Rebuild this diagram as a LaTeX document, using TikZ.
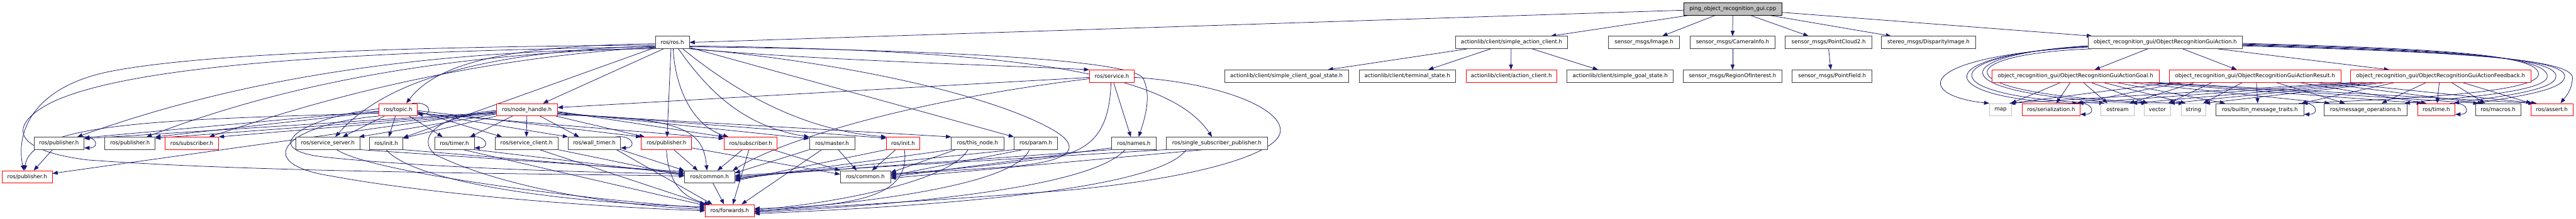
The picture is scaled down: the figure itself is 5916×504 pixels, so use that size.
\documentclass[tikz,border=0pt]{standalone}
\usepackage{fontspec}
\setmainfont{DejaVu Sans}
\usetikzlibrary{arrows.meta,backgrounds}
\definecolor{edgec}{HTML}{191970}
\definecolor{bx}{HTML}{404040}
\definecolor{gy}{HTML}{BFBFBF}
\tikzset{
 bxs/.style={draw=bx, line width=1.1pt, fill=white, minimum height=28.3pt, inner sep=0pt, font=\fontsize{12.4}{14}\selectfont},
 rds/.style={bxs, draw=red},
 gys/.style={bxs, draw=gy},
 roots/.style={bxs, draw=black, fill=gy},
 e/.style={draw=edgec, line width=1.1pt, -{Triangle[length=12pt,width=9pt]}}
}
\newcommand\mk[6]{%
  \pgfmathsetmacro\mkc{(#3+#4)/2}%
  \pgfmathsetmacro\mkw{#4-#3}%
  \node[#1,minimum width=\mkw pt] (#2) at (\mkc,#5) {#6};}
\newcommand\ed[4]{\draw[e] ([xshift=#2pt]#1.south) -- ([xshift=#4pt]#3.north);}
\newcommand\loopr[1]{\draw[e] ([xshift=-12pt]#1.north east) .. controls +(40,-6) and +(38,0) .. ([yshift=4pt]#1.south east);}
\begin{document}
\begin{tikzpicture}[x=1pt,y=-1pt]
\useasboundingbox (0,0) rectangle (5916,504);
% row 0
\mk{roots}{root}{3867}{4092}{20.5}{ping\_object\_recognition\_gui.cpp}
% row 1
\mk{bxs}{ros}{1505}{1583}{97.7}{ros/ros.h}
\mk{bxs}{sac}{3343}{3600}{97.7}{actionlib/client/simple\_action\_client.h}
\mk{bxs}{img}{3694}{3857}{97.7}{sensor\_msgs/Image.h}
\mk{bxs}{cam}{3881}{4077}{97.7}{sensor\_msgs/CameraInfo.h}
\mk{bxs}{pc2}{4100}{4299}{97.7}{sensor\_msgs/PointCloud2.h}
\mk{bxs}{disp}{4321}{4537}{97.7}{stereo\_msgs/DisparityImage.h}
\mk{bxs}{act}{4795}{5150}{97.7}{object\_recognition\_gui/ObjectRecognitionGuiAction.h}
% row 2
\mk{rds}{srv}{2502}{2605}{175.2}{ros/service.h}
\mk{bxs}{scgs}{2812}{3097}{175.2}{actionlib/client/simple\_client\_goal\_state.h}
\mk{bxs}{term}{3121}{3343}{175.2}{actionlib/client/terminal\_state.h}
\mk{rds}{acl}{3367}{3575}{175.2}{actionlib/client/action\_client.h}
\mk{bxs}{sgs}{3599}{3843}{175.2}{actionlib/client/simple\_goal\_state.h}
\mk{bxs}{roi}{3865}{4093}{175.2}{sensor\_msgs/RegionOfInterest.h}
\mk{bxs}{pf}{4116}{4299}{175.2}{sensor\_msgs/PointField.h}
\mk{rds}{goal}{4574}{4959}{175.2}{object\_recognition\_gui/ObjectRecognitionGuiActionGoal.h}
\mk{rds}{res}{4982}{5376}{175.2}{object\_recognition\_gui/ObjectRecognitionGuiActionResult.h}
\mk{rds}{fb}{5398}{5812}{175.2}{object\_recognition\_gui/ObjectRecognitionGuiActionFeedback.h}
% row 3
\mk{rds}{topic}{870}{958}{252.5}{ros/topic.h}
\mk{rds}{nh}{1140}{1280}{252.5}{ros/node\_handle.h}
\mk{gys}{map}{4569}{4620}{252.5}{map}
\mk{rds}{ser}{4644}{4777}{252.5}{ros/serialization.h}
\mk{gys}{ostr}{4825}{4901}{252.5}{ostream}
\mk{gys}{vec}{4924}{4985}{252.5}{vector}
\mk{gys}{str}{5009}{5066}{252.5}{string}
\mk{bxs}{bmt}{5089}{5291}{252.5}{ros/builtin\_message\_traits.h}
\mk{bxs}{mo}{5337}{5528}{252.5}{ros/message\_operations.h}
\mk{rds}{time}{5552}{5638}{252.5}{ros/time.h}
\mk{bxs}{mac}{5685}{5789}{252.5}{ros/macros.h}
\mk{rds}{asrt}{5812}{5909}{252.5}{ros/assert.h}
% row 4
\mk{bxs}{pub1}{78}{193}{329.8}{ros/publisher.h}
\mk{bxs}{pub2}{241}{356}{329.8}{ros/publisher.h}
\mk{rds}{sub1}{379}{502}{329.8}{ros/subscriber.h}
\mk{bxs}{ss}{679}{827}{329.8}{ros/service\_server.h}
\mk{bxs}{init1}{849}{925}{329.8}{ros/init.h}
\mk{bxs}{timer}{998}{1089}{329.8}{ros/timer.h}
\mk{bxs}{sc}{1137}{1281}{329.8}{ros/service\_client.h}
\mk{bxs}{wt}{1305}{1425}{329.8}{ros/wall\_timer.h}
\mk{rds}{pub3}{1473}{1588}{329.8}{ros/publisher.h}
\mk{rds}{sub2}{1663}{1785}{329.8}{ros/subscriber.h}
\mk{bxs}{master}{1859}{1963}{329.8}{ros/master.h}
\mk{rds}{init2}{2036}{2112}{329.8}{ros/init.h}
\mk{bxs}{tn}{2185}{2305}{329.8}{ros/this\_node.h}
\mk{bxs}{param}{2329}{2429}{329.8}{ros/param.h}
\mk{bxs}{names}{2553}{2655}{329.8}{ros/names.h}
\mk{bxs}{ssp}{2678}{2911}{329.8}{ros/single\_subscriber\_publisher.h}
% row 5
\mk{rds}{pub4}{5}{120}{407.2}{ros/publisher.h}
\mk{bxs}{com1}{1572}{1687}{407.2}{ros/common.h}
\mk{bxs}{com2}{1930}{2045}{407.2}{ros/common.h}
% row 6
\mk{rds}{fwd}{1620}{1732}{485}{ros/forwards.h}

\begin{scope}[on background layer]
% root
\draw[e] ([yshift=-3pt]root.west) -- (ros.east);
\ed{root}{-100}{sac}{90}
\ed{root}{-40}{img}{42}
\ed{root}{0}{cam}{0}
\ed{root}{40}{pc2}{-46}
\ed{root}{84}{disp}{-86}
\draw[e] ([yshift=-8pt]root.east) -- ([xshift=-168pt]act.north);
% actionlib / sensor
\ed{sac}{-101}{scgs}{95}
\ed{sac}{-48}{term}{48}
\ed{sac}{-1}{acl}{-1}
\ed{sac}{47}{sgs}{-51}
\ed{cam}{0}{roi}{0}
\ed{pc2}{0}{pf}{-3}
% action
\ed{act}{-40}{goal}{44}
\ed{act}{40}{res}{-42}
\ed{act}{120}{fb}{-118}
\draw[e] ([yshift=4pt]act.south west) .. controls (4390,130) and (4400,220) .. (map.north west);
\draw[e] ([yshift=5pt]act.south west) .. controls (4410,128) and (4450,228) .. ([xshift=-6pt]ser.north east);
\draw[e] ([yshift=6pt]act.south west) .. controls (4430,128) and (4440,225) .. ([xshift=-30pt]ostr.north);
\draw[e] ([yshift=7pt]act.south west) .. controls (4450,128) and (4460,222) .. ([xshift=-25pt]vec.north);
\draw[e] ([xshift=10pt]act.south west) .. controls (4460,125) and (4450,225) .. ([xshift=-22pt]str.north);
\draw[e] ([yshift=-2pt]act.east) .. controls (5600,112) and (5828,125) .. (5830,170) .. controls (5832,215) and (5500,228) .. ([xshift=-4pt]bmt.north east);
\draw[e] ([yshift=-3.5pt]act.east) .. controls (5600,114) and (5848,127) .. (5850,175) .. controls (5852,215) and (5600,228) .. ([xshift=-6pt]mo.north east);
\draw[e] ([yshift=-5pt]act.east) .. controls (5600,116) and (5868,129) .. (5870,175) .. controls (5872,212) and (5700,226) .. ([xshift=-3pt]time.north east);
\draw[e] ([yshift=-6.5pt]act.east) .. controls (5600,118) and (5888,131) .. (5890,175) .. controls (5892,210) and (5760,224) .. ([xshift=6pt]mac.north west);
\draw[e] ([yshift=-8pt]act.east) .. controls (5650,120) and (5910,135) .. (5908,180) .. controls (5906,210) and (5890,225) .. ([xshift=20pt]asrt.north);
% goal / result / feedback
\ed{goal}{-34}{map}{24}
\ed{goal}{-12}{ser}{12}
\ed{goal}{18}{ostr}{-23}
\ed{goal}{36}{vec}{-22}
\ed{goal}{64}{str}{-18}
\ed{goal}{94}{bmt}{-80}
\ed{goal}{124}{mo}{-82}
\ed{goal}{154}{time}{-33}
\ed{goal}{174}{mac}{-45}
\ed{goal}{188}{asrt}{-42}
\ed{res}{-189}{map}{22}
\ed{res}{-169}{ser}{59}
\ed{res}{-139}{ostr}{27}
\ed{res}{-99}{vec}{25}
\ed{res}{-29}{str}{22}
\ed{res}{3}{bmt}{-5}
\ed{res}{48}{mo}{-47}
\ed{res}{101}{time}{-23}
\ed{res}{141}{mac}{-35}
\ed{res}{181}{asrt}{-35}
\ed{fb}{-203}{map}{20}
\ed{fb}{-185}{ser}{62}
\ed{fb}{-165}{ostr}{33}
\ed{fb}{-145}{vec}{28}
\ed{fb}{-125}{str}{26}
\ed{fb}{-105}{bmt}{95}
\ed{fb}{-33}{mo}{37}
\ed{fb}{-3}{time}{2}
\ed{fb}{25}{mac}{-30}
\ed{fb}{50}{asrt}{-47}
\loopr{ser}
\loopr{bmt}
\loopr{time}
% ros.h
\draw[e] ([yshift=-6pt]ros.west) .. controls (900,108) and (450,125) .. (250,165) .. controls (80,200) and (35,300) .. ([xshift=-8pt]pub4.north);
\draw[e] ([yshift=-10pt]ros.west) .. controls (800,118) and (300,150) .. (120,235) .. controls (20,285) and (20,345) .. (200,368) .. controls (600,398) and (1300,400) .. ([yshift=2pt]com1.west);
\draw[e] (ros.south west) .. controls (900,115) and (500,200) .. ([xshift=42pt]pub1.north);
\draw[e] ([yshift=2pt]ros.south west) .. controls (950,125) and (600,215) .. ([xshift=38pt]pub2.north);
\draw[e] ([yshift=4pt]ros.south west) .. controls (1000,140) and (650,260) .. ([xshift=40pt]sub1.north);
\draw[e] ([yshift=-3pt]ros.west) .. controls (1150,105) and (1000,150) .. ([xshift=19pt]topic.north);
\draw[e] ([xshift=-20pt]ros.south) -- ([xshift=37pt]nh.north);
\draw[e] ([yshift=-8pt]ros.west) .. controls (1100,118) and (880,190) .. ([xshift=17pt]ss.north);
\draw[e] ([yshift=3pt]ros.south west) -- ([yshift=-2pt]init1.north east);
\draw[e] ([xshift=-3pt]ros.south) -- ([xshift=1.5pt]pub3.north);
\draw[e] ([xshift=2pt]ros.south) .. controls (1550,200) and (1590,290) .. ([xshift=-51pt]sub2.north);
\draw[e] ([xshift=14pt]ros.south) .. controls (1620,200) and (1700,290) .. (master.north west);
\draw[e] ([xshift=24pt]ros.south) .. controls (1700,220) and (1850,300) .. (init2.north west);
\draw[e] ([yshift=3pt]ros.south east) -- (param.north west);
\draw[e] ([yshift=-10pt]ros.east) .. controls (2200,115) and (2600,140) .. (2625,180) .. controls (2645,220) and (2630,270) .. ([xshift=11pt]names.north);
\draw[e] ([yshift=-8pt]ros.east) .. controls (2300,115) and (2680,160) .. ([xshift=-11pt]ssp.north);
\draw[e] (ros.south east) .. controls (1900,140) and (2300,150) .. (srv.north west);
\draw[e] ([yshift=1pt]ros.south east) .. controls (2000,150) and (2300,230) .. (2420,300) .. controls (2495,345) and (2450,375) .. (2300,385) .. controls (2200,392) and (2100,398) .. ([yshift=5pt]com2.east);
% topic.h
\draw[e] ([yshift=-3pt]topic.west) -- ([yshift=-2pt]pub1.north east);
\draw[e] ([yshift=-5pt]topic.west) -- (pub2.north east);
\draw[e] ([yshift=-8pt]topic.west) .. controls (400,275) and (70,280) .. ([xshift=-6pt]pub4.north);
\draw[e] ([xshift=-31pt]topic.south) -- ([xshift=34pt]ss.north);
\draw[e] ([xshift=-6pt]topic.south) -- ([xshift=6pt]init1.north);
\draw[e] ([xshift=26pt]topic.south) -- ([xshift=-27pt]timer.north);
\draw[e] ([yshift=-4pt]topic.east) -- ([xshift=-56pt]sc.north);
\draw[e] ([yshift=-6pt]topic.east) -- (wt.north west);
\draw[e] ([yshift=-2pt]topic.east) -- (pub3.north west);
\draw[e] ([yshift=-8pt]topic.east) -- ([yshift=-4pt]sub2.north west);
\draw[e] ([yshift=2pt]topic.west) .. controls (700,268) and (580,345) .. (750,362) .. controls (1000,388) and (1400,398) .. ([yshift=7pt]com1.west);
\draw[e] (topic.south west) .. controls (660,285) and (570,375) .. (760,405) .. controls (1000,450) and (1400,478) .. (fwd.west);
\loopr{topic}
% node_handle.h
\draw[e] ([yshift=-6pt]nh.west) -- ([yshift=-4pt]pub1.north east);
\draw[e] ([yshift=-7pt]nh.west) -- ([yshift=-3pt]pub2.north east);
\draw[e] ([yshift=-9pt]nh.west) -- (sub1.north east);
\draw[e] ([yshift=-10pt]nh.west) -- ([xshift=-3pt]ss.north east);
\draw[e] (nh.south west) -- ([yshift=-3pt]init1.north east);
\draw[e] ([yshift=-4pt]nh.west) -- ([yshift=8pt]pub4.east);
\draw[e] ([xshift=-33pt]nh.south) -- ([xshift=36pt]timer.north);
\draw[e] (nh.south) -- (sc.north);
\draw[e] ([xshift=30pt]nh.south) -- ([xshift=-35pt]wt.north);
\draw[e] ([xshift=-4pt]nh.south east) -- ([xshift=8pt]pub3.north west);
\draw[e] ([yshift=-4pt]nh.east) -- (sub2.north west);
\draw[e] ([yshift=-6pt]nh.east) -- ([yshift=-4pt]master.north west);
\draw[e] ([yshift=-8pt]nh.east) -- ([yshift=-3pt]init2.north west);
\draw[e] ([yshift=-10pt]nh.east) -- (tn.north west);
\draw[e] ([yshift=-12pt]nh.east) .. controls (1570,270) and (1615,300) .. ([xshift=-6pt]com1.north);
\draw[e] ([yshift=-2pt]nh.west) .. controls (1000,265) and (955,320) .. (1000,356) .. controls (1150,430) and (1400,472) .. ([yshift=3pt]fwd.west);
% service.h
\draw[e] ([yshift=-3pt]srv.west) -- ([yshift=5pt]nh.east);
\draw[e] ([xshift=4pt]srv.south) -- ([xshift=-7pt]names.north);
\draw[e] ([yshift=-6pt]srv.west) .. controls (2100,230) and (1800,320) .. ([xshift=-5pt]com1.north east);
\draw[e] ([xshift=-2pt]srv.south) .. controls (2548,300) and (2510,345) .. (2420,362) .. controls (2250,385) and (2100,398) .. ([yshift=8pt]com2.east);
\draw[e] ([yshift=-3pt]srv.east) .. controls (2800,190) and (2950,250) .. (2940,305) .. controls (2930,355) and (2750,410) .. (2450,438) .. controls (2150,462) and (1850,478) .. ([yshift=-2pt]fwd.east);
% row 4 to common / forwards
\draw[e] ([xshift=-15pt]pub1.south) -- ([xshift=15pt]pub4.north);
\loopr{pub1}
\draw[e] (ss.south east) -- ([yshift=12pt]com1.west);
\draw[e] ([xshift=20pt]ss.south) .. controls (850,395) and (1300,455) .. ([yshift=6pt]fwd.west);
\draw[e] (init1.south east) -- ([yshift=9pt]com1.west);
\draw[e] (init1.south) .. controls (950,420) and (1300,468) .. ([yshift=9pt]fwd.west);
\draw[e] (timer.south east) -- ([yshift=6pt]com1.west);
\draw[e] ([xshift=20pt]timer.south) -- ([yshift=12pt]fwd.west);
\loopr{timer}
\draw[e] (sc.south east) -- ([yshift=3pt]com1.west);
\draw[e] ([xshift=30pt]sc.south) -- (fwd.north west);
\draw[e] (wt.south east) -- (com1.north west);
\draw[e] ([xshift=-10pt]wt.south east) -- ([xshift=-40pt]fwd.north);
\loopr{wt}
\draw[e] ([xshift=17pt]pub3.south) -- ([xshift=-27pt]com1.north);
\draw[e] (pub3.south) .. controls (1535,425) and (1570,455) .. ([xshift=-46pt]fwd.north);
\draw[e] ([yshift=4pt]pub3.south east) -- ([yshift=6pt]com2.west);
\draw[e] ([xshift=-19pt]sub2.south) -- ([xshift=18pt]com1.north);
\draw[e] ([xshift=-4pt]sub2.south) -- ([xshift=7pt]fwd.north);
\draw[e] ([xshift=51pt]sub2.south) -- (com2.north west);
\draw[e] (master.south west) -- ([yshift=9pt]com1.east);
\draw[e] ([xshift=-24pt]master.south) -- ([xshift=27pt]fwd.north);
\draw[e] ([xshift=14pt]master.south) -- ([xshift=-20pt]com2.north);
\draw[e] (init2.south west) -- ([yshift=-9pt]com1.east);
\draw[e] ([xshift=3pt]init2.south) .. controls (2090,440) and (2000,475) .. ([yshift=5pt]fwd.east);
\draw[e] ([xshift=-17pt]init2.south) -- ([xshift=15pt]com2.north);
\draw[e] (tn.south west) -- ([yshift=-6pt]com1.east);
\draw[e] ([xshift=-50pt]tn.south) -- ([yshift=10pt]com2.east);
\draw[e] ([xshift=-22pt]tn.south) .. controls (2180,420) and (1900,470) .. ([yshift=2pt]fwd.east);
\draw[e] (param.south west) -- ([yshift=-3pt]com1.east);
\draw[e] ([xshift=-30pt]param.south) -- ([yshift=3pt]com2.east);
\draw[e] ([xshift=-15pt]param.south) .. controls (2330,430) and (1950,470) .. ([yshift=-1pt]fwd.east);
\draw[e] (names.south west) -- (com1.east);
\draw[e] ([yshift=4pt]names.south west) -- (com2.east);
\draw[e] ([xshift=-20pt]names.south) .. controls (2500,440) and (2000,475) .. ([yshift=-4pt]fwd.east);
\draw[e] (ssp.south west) -- ([yshift=3pt]com1.east);
\draw[e] ([xshift=-30pt]ssp.south) -- ([yshift=-3pt]com2.east);
\draw[e] ([xshift=-70pt]ssp.south) .. controls (2650,450) and (2000,480) .. ([yshift=-7pt]fwd.east);
\draw[e] ([xshift=8pt]com1.south) -- ([xshift=-13pt]fwd.north);
\end{scope}
\end{tikzpicture}
\end{document}
